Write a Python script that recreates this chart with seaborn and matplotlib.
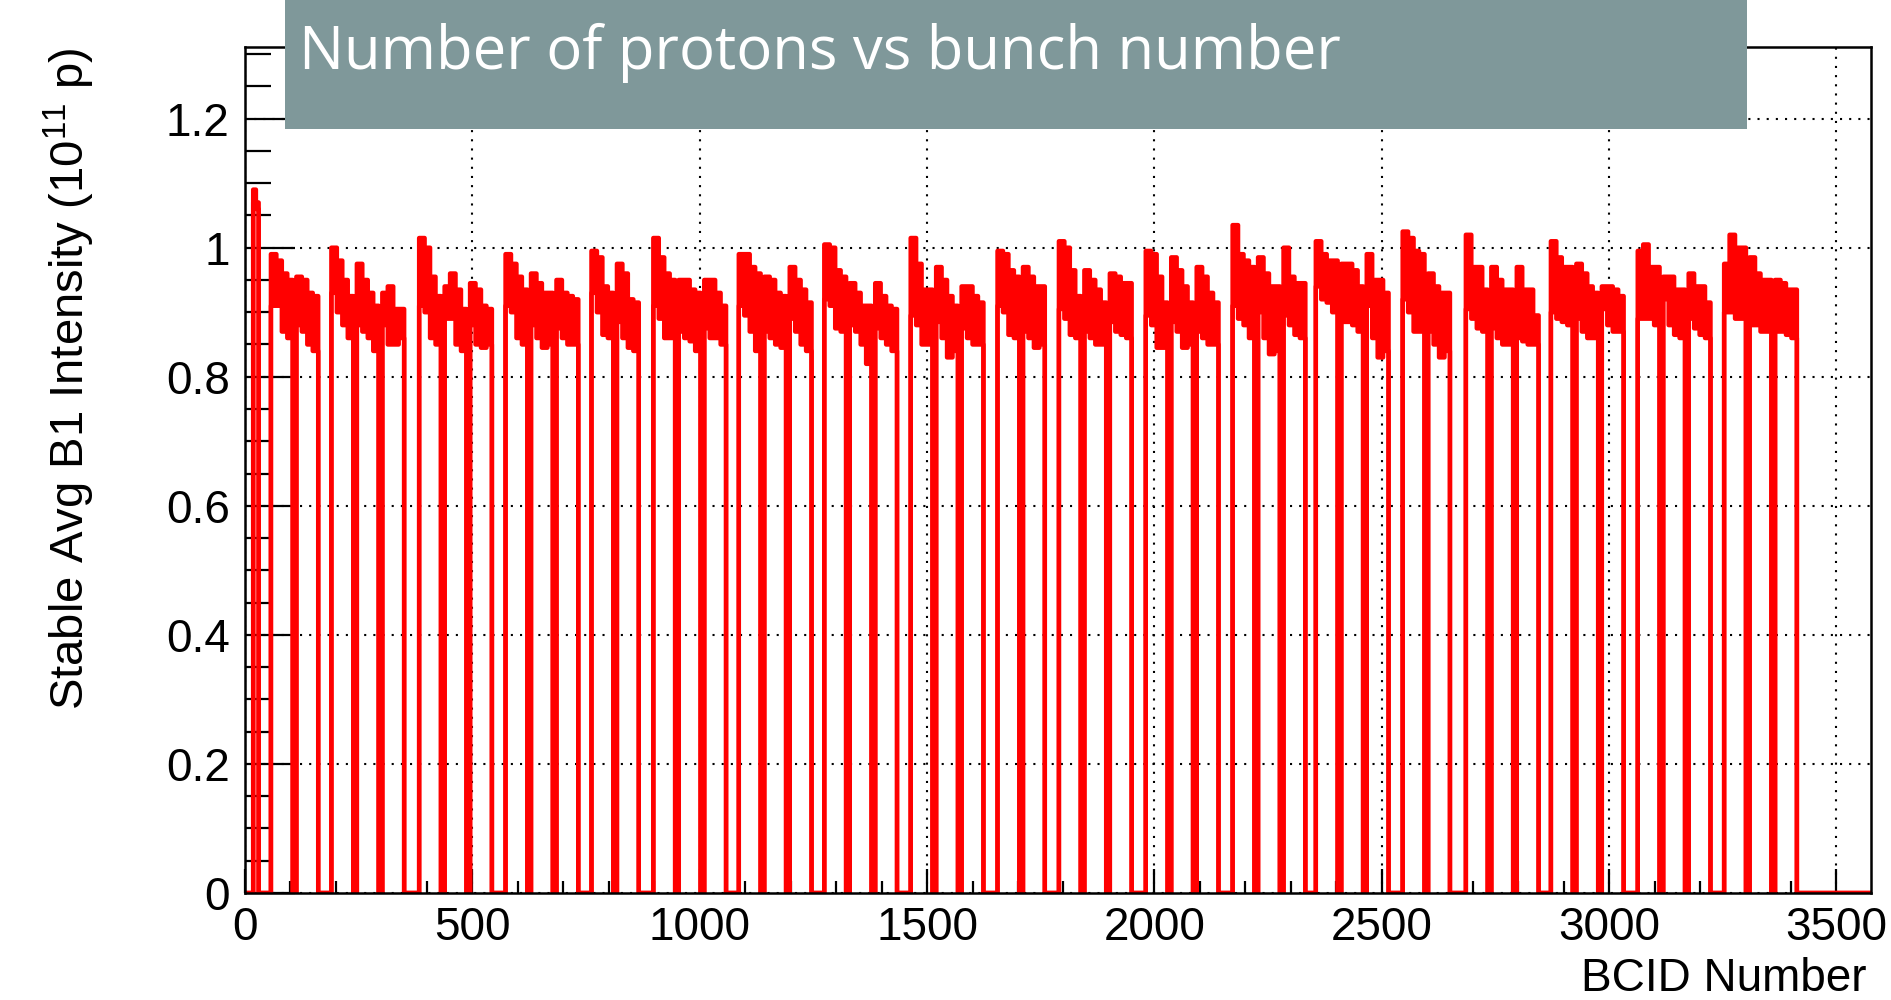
import numpy as np
import matplotlib
matplotlib.use("Agg")
import matplotlib.pyplot as plt
import seaborn as sns
from matplotlib.ticker import MultipleLocator, FixedLocator
from matplotlib.patches import Rectangle

# ---------------- data ----------------
# first filled BCID of every injected train and number of 48-bunch batches
train_start = [18, 57, 190, 383, 573, 762, 898, 1086, 1274, 1464, 1655,
               1790, 1981, 2172, 2355, 2546, 2685, 2872, 3063, 3253]
train_batches = [1, 2, 3, 3, 3, 2, 3, 3, 3, 3, 2, 3, 3, 3, 3, 2, 3, 3, 3, 3]
train_bunches = [12] + [48] * 19          # bunches per batch in each train
batch_spacing = 56                        # BCIDs between batch starts

# upper / lower envelope of the per-bunch intensity inside each batch (1e11 p)
batch_upper = [
    [1.09, 1.07],
    [0.99, 0.98, 0.96, 0.95], [0.955, 0.95, 0.93, 0.925],
    [1.0, 0.98, 0.95, 0.925], [0.975, 0.95, 0.93, 0.91], [0.93, 0.94, 0.905, 0.905],
    [1.015, 1.0, 0.955, 0.925], [0.94, 0.96, 0.935, 0.905], [0.945, 0.935, 0.91, 0.905],
    [0.99, 0.975, 0.955, 0.935], [0.96, 0.945, 0.93, 0.93], [0.95, 0.93, 0.925, 0.92],
    [0.995, 0.985, 0.94, 0.93], [0.975, 0.96, 0.92, 0.915],
    [1.015, 0.985, 0.96, 0.95], [0.95, 0.95, 0.935, 0.93], [0.95, 0.95, 0.93, 0.91],
    [0.99, 0.99, 0.97, 0.96], [0.955, 0.95, 0.93, 0.925], [0.97, 0.95, 0.935, 0.915],
    [1.005, 1.0, 0.965, 0.955], [0.945, 0.93, 0.91, 0.91], [0.945, 0.925, 0.91, 0.905],
    [1.015, 0.975, 0.935, 0.935], [0.97, 0.95, 0.925, 0.91], [0.94, 0.94, 0.925, 0.915],
    [0.995, 0.99, 0.965, 0.955], [0.97, 0.955, 0.94, 0.94],
    [1.01, 1.0, 0.965, 0.925], [0.965, 0.95, 0.935, 0.915], [0.96, 0.955, 0.945, 0.945],
    [0.995, 0.99, 0.955, 0.915], [0.985, 0.965, 0.94, 0.915], [0.97, 0.955, 0.93, 0.915],
    [1.035, 0.99, 0.98, 0.97], [0.985, 0.96, 0.94, 0.94], [1.0, 0.955, 0.945, 0.945],
    [1.01, 0.99, 0.98, 0.98], [0.975, 0.975, 0.965, 0.94], [0.99, 0.95, 0.95, 0.93],
    [1.025, 1.015, 0.995, 0.99], [0.96, 0.94, 0.93, 0.93],
    [1.02, 0.97, 0.97, 0.935], [0.97, 0.95, 0.935, 0.935], [0.97, 0.935, 0.935, 0.895],
    [1.01, 0.985, 0.97, 0.97], [0.975, 0.96, 0.94, 0.93], [0.94, 0.94, 0.935, 0.925],
    [0.995, 1.005, 0.97, 0.97], [0.955, 0.955, 0.935, 0.935], [0.96, 0.94, 0.94, 0.915],
    [0.975, 1.02, 1.0, 1.0], [0.985, 0.96, 0.95, 0.95], [0.95, 0.945, 0.935, 0.935],
]
batch_lower = [
    [1.07, 1.06],
    [0.91, 0.91, 0.87, 0.86], [0.88, 0.87, 0.85, 0.84],
    [0.93, 0.90, 0.88, 0.86], [0.88, 0.87, 0.86, 0.84], [0.88, 0.85, 0.85, 0.86],
    [0.91, 0.90, 0.86, 0.85], [0.89, 0.89, 0.85, 0.84], [0.88, 0.85, 0.845, 0.85],
    [0.91, 0.90, 0.86, 0.85], [0.88, 0.86, 0.845, 0.85], [0.875, 0.86, 0.85, 0.85],
    [0.93, 0.90, 0.865, 0.86], [0.885, 0.86, 0.845, 0.84],
    [0.91, 0.89, 0.86, 0.86], [0.87, 0.86, 0.855, 0.84], [0.875, 0.86, 0.86, 0.85],
    [0.91, 0.895, 0.87, 0.84], [0.87, 0.86, 0.85, 0.845], [0.89, 0.87, 0.85, 0.84],
    [0.92, 0.91, 0.875, 0.87], [0.88, 0.87, 0.85, 0.82], [0.875, 0.86, 0.85, 0.84],
    [0.895, 0.88, 0.85, 0.85], [0.885, 0.86, 0.83, 0.84], [0.875, 0.86, 0.85, 0.85],
    [0.91, 0.90, 0.865, 0.86], [0.87, 0.86, 0.845, 0.85],
    [0.905, 0.89, 0.865, 0.86], [0.87, 0.86, 0.85, 0.85], [0.885, 0.87, 0.865, 0.86],
    [0.895, 0.88, 0.845, 0.845], [0.885, 0.87, 0.845, 0.85], [0.87, 0.86, 0.85, 0.85],
    [0.91, 0.89, 0.88, 0.86], [0.90, 0.86, 0.835, 0.84], [0.895, 0.88, 0.865, 0.86],
    [0.94, 0.92, 0.915, 0.90], [0.885, 0.885, 0.88, 0.87], [0.91, 0.86, 0.83, 0.84],
    [0.92, 0.90, 0.87, 0.87], [0.87, 0.85, 0.83, 0.84],
    [0.905, 0.89, 0.875, 0.87], [0.875, 0.86, 0.85, 0.85], [0.86, 0.855, 0.85, 0.85],
    [0.90, 0.89, 0.885, 0.88], [0.89, 0.87, 0.86, 0.86], [0.905, 0.88, 0.87, 0.87],
    [0.89, 0.89, 0.89, 0.88], [0.92, 0.88, 0.865, 0.86], [0.89, 0.875, 0.865, 0.86],
    [0.90, 0.90, 0.89, 0.89], [0.88, 0.88, 0.87, 0.87], [0.87, 0.87, 0.865, 0.86],
]

x_ticks = [0, 500, 1000, 1500, 2000, 2500, 3000, 3500]
x_tick_labels = ["0", "500", "1000", "1500", "2000", "2500", "3000", "3500"]
y_ticks = [0, 0.2, 0.4, 0.6, 0.8, 1.0, 1.2]
y_tick_labels = ["0", "0.2", "0.4", "0.6", "0.8", "1", "1.2"]
n_bcid = 3576

title_text = "Number of protons vs bunch number"
x_label = "BCID Number"
y_label = "Stable Avg B1 Intensity (10$^{11}$ p)"

# ---------------- build per-BCID histogram envelopes ----------------
bcid = np.arange(0, n_bcid + 1)
upper = np.zeros(bcid.size)
lower = np.zeros(bcid.size)
bi = 0
for s, nb, nbun in zip(train_start, train_batches, train_bunches):
    for b in range(nb):
        bs = s + b * batch_spacing
        up, lo = batch_upper[bi], batch_lower[bi]
        n = len(up)
        for k in range(n):
            i0 = bs + int(round(k * nbun / n))
            i1 = bs + int(round((k + 1) * nbun / n))
            upper[i0:i1] = up[k]
            lower[i0:i1] = lo[k]
        bi += 1

# ---------------- plot ----------------
sns.set_style("white")
plt.rcParams["font.family"] = ["Liberation Sans", "DejaVu Sans"]
plt.rcParams["mathtext.fontset"] = "custom"
plt.rcParams["mathtext.rm"] = "Liberation Sans"
plt.rcParams["mathtext.it"] = "Liberation Sans"

W, H = 1891, 1000
fig = plt.figure(figsize=(W / 100, H / 100), dpi=100)
ax = fig.add_axes([245 / W, 1 - 893 / H, (1871 - 245) / W, (893 - 47) / H])

red = "#ff0000"
lw = 3.2
ax.fill_between(bcid, lower, upper, where=upper > 0, step="post",
                color=red, linewidth=0, zorder=3)
sns.lineplot(x=bcid, y=upper, drawstyle="steps-post", color=red, lw=lw,
             estimator=None, sort=False, ax=ax, zorder=4)
sns.lineplot(x=bcid, y=lower, drawstyle="steps-post", color=red, lw=lw,
             estimator=None, sort=False, ax=ax, zorder=4)

ax.set_xlim(0, n_bcid)
ax.set_ylim(0, 1.311)

ax.xaxis.set_major_locator(FixedLocator(x_ticks))
ax.set_xticklabels(x_tick_labels)
ax.xaxis.set_minor_locator(MultipleLocator(100))
ax.yaxis.set_major_locator(FixedLocator(y_ticks))
ax.set_yticklabels(y_tick_labels)
ax.yaxis.set_minor_locator(MultipleLocator(0.05))

ax.tick_params(axis="both", which="both", direction="in", colors="black",
               width=1.6, top=False, right=False, left=True, bottom=True)
ax.tick_params(axis="y", which="major", length=36, pad=11, labelsize=33)
ax.tick_params(axis="y", which="minor", length=19)
ax.tick_params(axis="x", which="major", length=17, pad=9, labelsize=33)
ax.tick_params(axis="x", which="minor", length=9)
for t in ax.xaxis.get_major_ticks() + ax.yaxis.get_major_ticks():
    t.tick1line.set_zorder(7)

ax.grid(True, which="major", color="black", linestyle=(0, (1, 3.4)),
        linewidth=1.5, zorder=1)
ax.set_axisbelow(True)

for sp in ax.spines.values():
    sp.set_visible(True)
    sp.set_color("black")
    sp.set_linewidth(1.8)
    sp.set_zorder(6)

ax.set_xlabel(x_label, loc="right", fontsize=33, color="black")
ax.xaxis.set_label_coords(0.9975, -0.076)
ax.set_ylabel(y_label, loc="top", fontsize=34, color="black")
ax.yaxis.set_label_coords(-0.091, 1.0)

# title banner
fig.add_artist(Rectangle((285 / W, 1 - 129 / H), (1747 - 285) / W, 129 / H,
                         transform=fig.transFigure, facecolor="#7f989a",
                         edgecolor="none", zorder=10))
fig.text(299 / W, 1 - 69 / H, title_text, color="white", fontsize=43,
         family=["Open Sans", "DejaVu Sans"], ha="left", va="baseline", zorder=11)

fig.savefig("out.png", dpi=100, facecolor="white")
